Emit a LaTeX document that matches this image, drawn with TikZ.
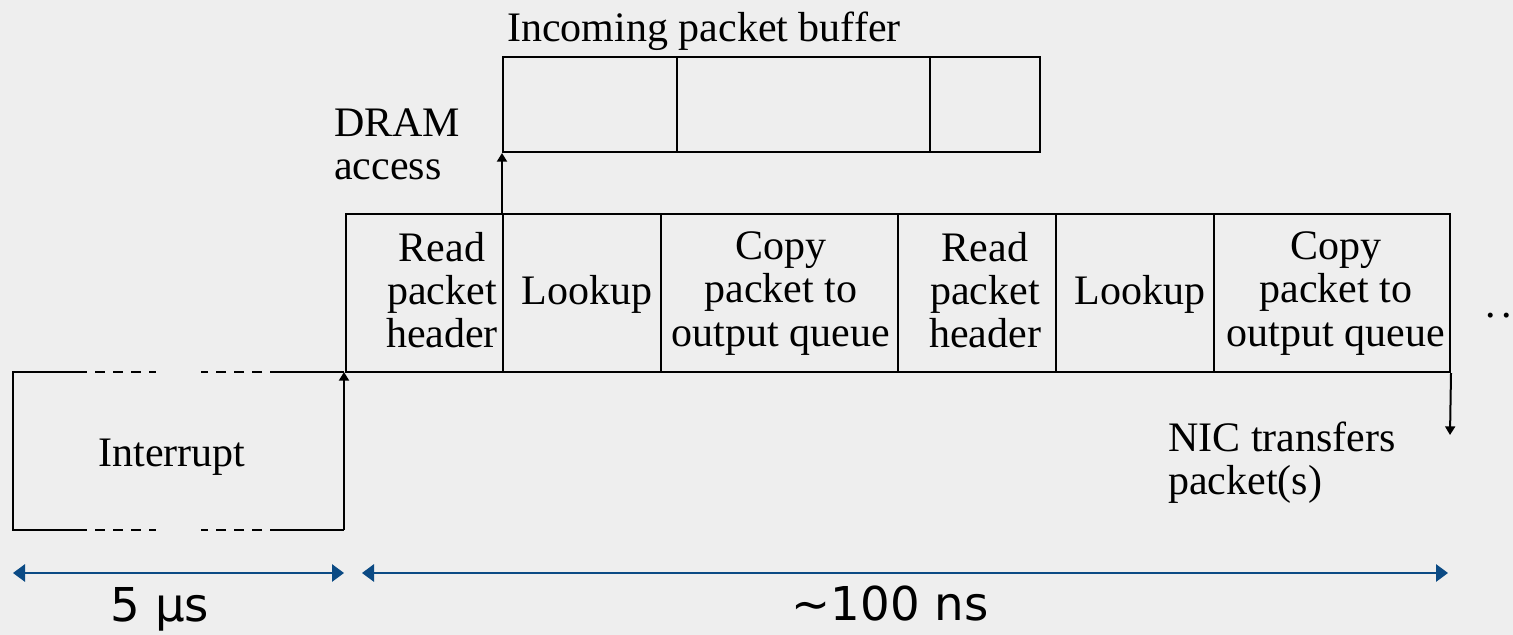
\documentclass[tikz,border=0pt]{standalone}
\usepackage{fontspec}
\setmainfont{Liberation Serif}
\newfontfamily\sansf{DejaVu Sans}
\usetikzlibrary{arrows.meta}
\definecolor{bg}{HTML}{EEEEEE}
\definecolor{dimblue}{HTML}{0B4A84}
\newcommand{\serifbig}{\fontsize{31.5pt}{32.5pt}\selectfont}
\newcommand{\sansbig}{\sansf\fontsize{35pt}{40pt}\selectfont}
\begin{document}
\begin{tikzpicture}[x=0.75pt,y=-0.75pt,
  cell/.style={draw,line width=1.5pt,inner sep=0pt,minimum height=158*0.75pt},
  celltext/.style={inner sep=0pt,align=center,font=\serifbig},
  bufcell/.style={draw,line width=1.5pt,inner sep=0pt,minimum height=95*0.75pt},
  label/.style={inner sep=0pt,font=\serifbig},
  line/.style={line width=1.5pt},
  dashline/.style={line width=1.5pt,dash pattern=on 7.5pt off 6pt},
  blackarrow/.style={line width=1.5pt,-{Triangle[length=6.5pt,width=7.5pt]}},
  dimarrow/.style={line width=1.4pt,draw=dimblue,{Triangle[length=9pt,width=13pt]}-{Triangle[length=9pt,width=13pt]}},
  dimlabel/.style={inner sep=0pt,font=\sansbig}]
\useasboundingbox[fill=bg] (0,0) rectangle (1513,635);

% main row of cells
\node[cell,minimum width=157*0.75pt] (rh1) at (424.5,293) {};
\node[cell,minimum width=158*0.75pt] (lk1) at (582,293) {};
\node[cell,minimum width=237*0.75pt] (cp1) at (779.5,293) {};
\node[cell,minimum width=158*0.75pt] (rh2) at (977,293) {};
\node[cell,minimum width=158*0.75pt] (lk2) at (1135,293) {};
\node[cell,minimum width=236*0.75pt] (cp2) at (1332,293) {};
\node[celltext] (rh1t) at (442,290) {Read\\packet\\header};
\node[celltext] (lk1t) at (587,294) {Lookup};
\node[celltext] (cp1t) at (781,293.5) {Copy\\packet to\\output queue};
\node[celltext] (rh2t) at (985,290) {Read\\packet\\header};
\node[celltext] (lk2t) at (1140,294) {Lookup};
\node[celltext] (cp2t) at (1336,293.5) {Copy\\packet to\\output queue};
\node[label] (dots) at (1499,316) {.\kern4pt.};

% incoming packet buffer
\node[bufcell,minimum width=174*0.75pt] (b1) at (590,104.5) {};
\node[bufcell,minimum width=253*0.75pt] (b2) at (803.5,104.5) {};
\node[bufcell,minimum width=110*0.75pt] (b3) at (985,104.5) {};
\node[label] (buftitle) at (704,31) {Incoming packet buffer};
\node[label,anchor=west,align=left] (dram) at (334,144.5) {DRAM\\access};

% DRAM access arrow
\draw[blackarrow] (rh1.north west -| b1.south west) -- (b1.south west);

% interrupt
\coordinate (itl) at (13,372);
\coordinate (ibl) at (13,530);
\coordinate (itr) at (344,372);
\coordinate (ibr) at (344,530);
\node[label] (intr) at (172,457) {Interrupt};
\draw[line] (77,372) -- (itl) -- (ibl) -- (77,530);
\draw[dashline] (77,372) -- (156,372);
\draw[dashline] (77,530) -- (156,530);
\draw[dashline] (280,372) -- (201,372);
\draw[dashline] (280,530) -- (201,530);
\draw[line] (280,372) -- (itr);
\draw[line] (280,530) -- (ibr);
\draw[blackarrow] (ibr) -- (itr);

% NIC transfers
\coordinate (nicend) at (1450,435);
\draw[blackarrow] (cp2.south east) -- (nicend);
\node[label,anchor=west,align=left] (nic) at (1168,463) {NIC transfers\\packet(s)};

% dimension arrows
\coordinate (d1a) at (13,573);
\coordinate (d1b) at (344,573);
\coordinate (d2a) at (362,573);
\coordinate (d2b) at (1448,573);
\draw[dimarrow] (d1a) -- (d1b);
\draw[dimarrow] (d2a) -- (d2b);
\node[dimlabel] (t5) at (160,609) {5 µs};
\node[dimlabel] (t100) at (890,604) {\textasciitilde100 ns};
\end{tikzpicture}
\end{document}
